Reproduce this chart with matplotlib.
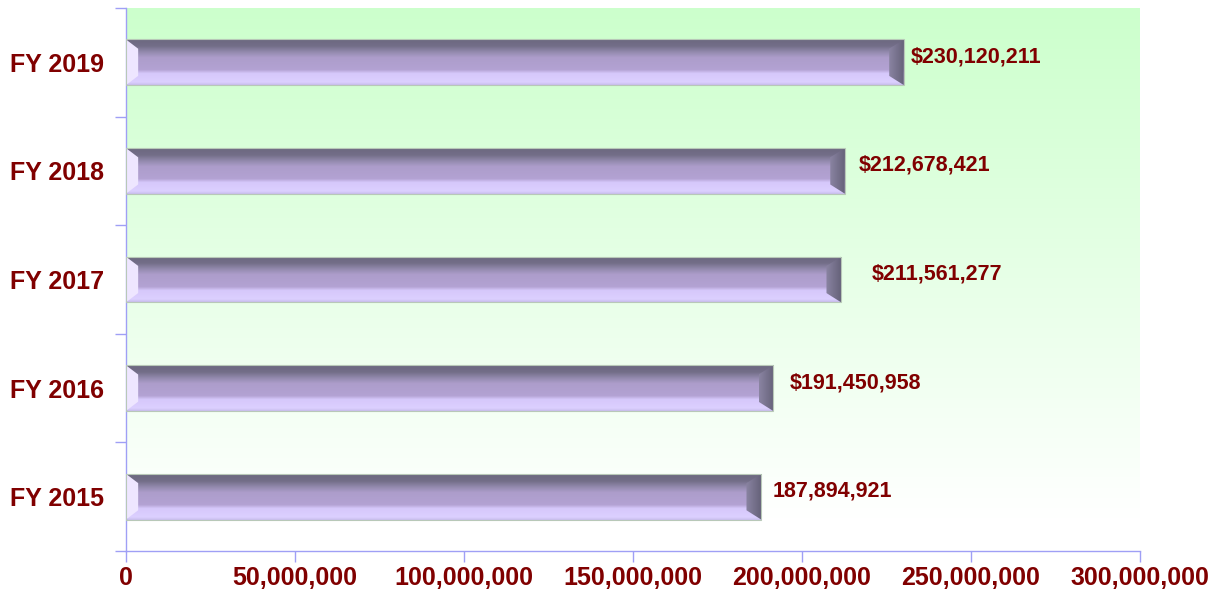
import numpy as np
import matplotlib
matplotlib.use("Agg")
import matplotlib.pyplot as plt
from matplotlib.patches import Polygon
from matplotlib.colors import LinearSegmentedColormap

# ---- data ----
categories = ["FY 2015", "FY 2016", "FY 2017", "FY 2018", "FY 2019"]
values = [187894921, 191450958, 211561277, 212678421, 230120211]
value_labels = ["187,894,921", "$191,450,958", "$211,561,277", "$212,678,421", "$230,120,211"]
x_ticks = [0, 50000000, 100000000, 150000000, 200000000, 250000000, 300000000]
x_tick_labels = ["0", "50,000,000", "100,000,000", "150,000,000", "200,000,000",
                 "250,000,000", "300,000,000"]

# label offsets in points (style)
label_dx = [8, 12, 22, 10, 5]

plt.rcParams['font.family'] = ['Liberation Sans', 'DejaVu Sans']
dark_red = '#800000'
axis_blue = '#9f9ff5'

fig = plt.figure(figsize=(12.22, 5.95), dpi=100)
ax = fig.add_axes([126 / 1222, 1 - 551 / 595, (1140 - 126) / 1222, (551 - 8) / 595])

# background gradient (green top -> white bottom)
grad_cmap = LinearSegmentedColormap.from_list("bg", [(0, '#ffffff'), (0.06, '#ffffff'), (1.0, '#ccffcc')])
g = np.linspace(0, 1, 256).reshape(-1, 1)
ax.imshow(g, cmap=grad_cmap, origin='lower', extent=[0, 1, 0, 1],
          transform=ax.transAxes, aspect='auto', zorder=0)

# bar gradient (bottom -> top)
bar_cmap = LinearSegmentedColormap.from_list("bar", [
    (0.0, '#c8bdec'), (0.06, '#dcd0ff'), (0.25, '#d6c8fb'), (0.33, '#b3a2d3'),
    (0.60, '#ad9dcb'), (0.72, '#938aae'), (0.85, '#736e88'), (1.0, '#6c6880')])
bevel_cmap = LinearSegmentedColormap.from_list("bev", ['#8a84a2', '#66627a'])

hh = 0.21
dx = 3.6e6
dy = 0.085
ypos = np.arange(len(categories))
for i, v in zip(ypos, values):
    im = ax.imshow(np.linspace(0, 1, 128).reshape(-1, 1), cmap=bar_cmap, origin='lower',
                   extent=[0, v, i - hh, i + hh], aspect='auto', zorder=2)
    rect = plt.Rectangle((0, i - hh), v, 2 * hh, facecolor='none', edgecolor='none')
    ax.add_patch(rect)
    im.set_clip_path(rect)
    # left bevel (light)
    ax.add_patch(Polygon([(0, i - hh), (dx, i - hh + dy), (dx, i + hh - dy), (0, i + hh)],
                         closed=True, facecolor='#eee6ff', edgecolor='none', zorder=3))
    # right bevel (dark, gradient)
    rpoly = Polygon([(v, i - hh), (v - 1.2 * dx, i - hh + dy), (v - 1.2 * dx, i + hh - dy), (v, i + hh)],
                    closed=True, facecolor='none', edgecolor='none', zorder=3)
    ax.add_patch(rpoly)
    rim = ax.imshow(np.linspace(0, 1, 64).reshape(1, -1), cmap=bevel_cmap,
                    extent=[v - 1.2 * dx, v, i - hh, i + hh], aspect='auto', zorder=3)
    rim.set_clip_path(rpoly)
    # outline
    ax.add_patch(plt.Rectangle((0, i - hh), v, 2 * hh, facecolor='none',
                               edgecolor='#b8c8b8', linewidth=0.8, zorder=4))
    ax.annotate(value_labels[i], xy=(v, i), xytext=(label_dx[i], 4), textcoords='offset points',
                ha='left', va='center', color=dark_red, fontsize=15.5, fontweight='bold', zorder=5)

ax.set_xlim(0, 300000000)
ax.set_ylim(-0.5, len(categories) - 0.5)

ax.set_xticks(x_ticks)
ax.set_xticklabels(x_tick_labels)
ax.set_yticks(ypos)
ax.set_yticklabels(categories)
ax.set_yticks(np.arange(len(categories) + 1) - 0.5, minor=True)

ax.tick_params(axis='x', direction='out', length=8, color=axis_blue, width=1,
               labelsize=18, labelcolor=dark_red, pad=3)
ax.tick_params(axis='y', which='major', length=0, labelsize=18, labelcolor=dark_red, pad=16)
ax.tick_params(axis='y', which='minor', direction='out', length=8, color=axis_blue, width=1)
for lab in ax.get_xticklabels() + ax.get_yticklabels():
    lab.set_fontweight('bold')

for s in ['top', 'right']:
    ax.spines[s].set_visible(False)
for s in ['left', 'bottom']:
    ax.spines[s].set_color(axis_blue)
    ax.spines[s].set_linewidth(1)

fig.savefig("out.png", dpi=100)
